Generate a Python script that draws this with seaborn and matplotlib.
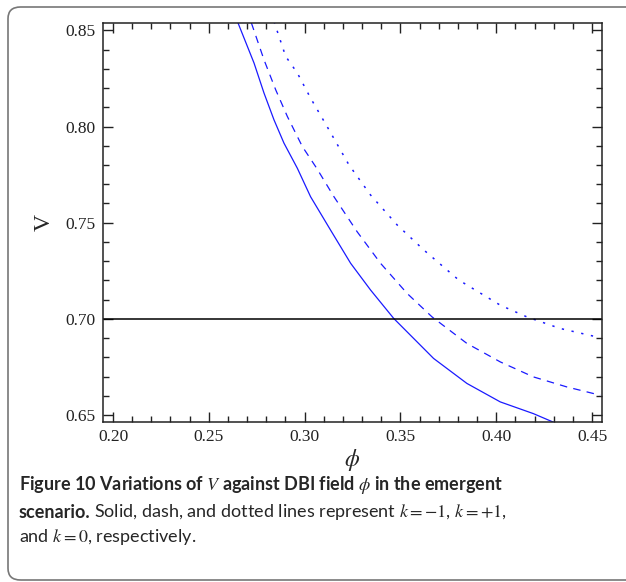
import numpy as np
import pandas as pd
import seaborn as sns
import matplotlib.pyplot as plt
from matplotlib.patches import FancyBboxPatch
from matplotlib.ticker import MultipleLocator

# values
phi_solid = [0.2649, 0.2736, 0.2788, 0.2840, 0.2892, 0.2962, 0.3031, 0.3135, 0.3240, 0.3344,
             0.3465, 0.3500, 0.3673, 0.3847, 0.4021, 0.4194, 0.4316]
v_solid = [0.8547, 0.8330, 0.8174, 0.8035, 0.7914, 0.7783, 0.7635, 0.7462, 0.7289, 0.7150,
           0.7002, 0.6967, 0.6794, 0.6664, 0.6568, 0.6507, 0.6455]

phi_dash = [0.2722, 0.2788, 0.2849, 0.2910, 0.2988, 0.3063, 0.3153, 0.3274, 0.3396, 0.3535,
            0.3665, 0.3847, 0.4021, 0.4194, 0.4368, 0.4542]
v_dash = [0.8539, 0.8347, 0.8191, 0.8052, 0.7896, 0.7783, 0.7635, 0.7453, 0.7289, 0.7132,
          0.7010, 0.6872, 0.6776, 0.6698, 0.6646, 0.6603]

phi_dot = [0.2840, 0.2901, 0.2962, 0.3031, 0.3127, 0.3231, 0.3344, 0.3483, 0.3622, 0.3804,
           0.4021, 0.4160, 0.4333, 0.4525]
v_dot = [0.8547, 0.8365, 0.8278, 0.8148, 0.7983, 0.7801, 0.7644, 0.7488, 0.7358, 0.7202,
         0.7071, 0.7010, 0.6950, 0.6906]

v_ref = 0.70
x_ticks = [0.20, 0.25, 0.30, 0.35, 0.40, 0.45]
y_ticks = [0.65, 0.70, 0.75, 0.80, 0.85]

sns.set_style("ticks")
plt.rcParams['font.family'] = ['Liberation Serif', 'DejaVu Serif']
plt.rcParams['mathtext.fontset'] = 'stix'

fig = plt.figure(figsize=(6.26, 5.82), dpi=100)
ax = fig.add_axes([0.164, 0.2754, 0.7971, 0.6856])

blue = "#1a1aff"
sns.lineplot(x=phi_solid, y=v_solid, ax=ax, color=blue, lw=0.9, sort=False)
sns.lineplot(x=phi_dash, y=v_dash, ax=ax, color=blue, lw=0.9, sort=False,
             linestyle=(0, (6, 5)))
sns.lineplot(x=phi_dot, y=v_dot, ax=ax, color=blue, lw=1.1, sort=False,
             linestyle=(0, (1.5, 5)))
ax.axhline(v_ref, color="black", lw=1.1)

ax.set_xlim(0.1946, 0.455)
ax.set_ylim(0.6465, 0.854)
ax.set_xticks(x_ticks)
ax.set_yticks(y_ticks)
ax.set_xticklabels([f"{t:.2f}" for t in x_ticks])
ax.set_yticklabels([f"{t:.2f}" for t in y_ticks])
ax.xaxis.set_minor_locator(MultipleLocator(0.01))
ax.yaxis.set_minor_locator(MultipleLocator(0.01))
ax.tick_params(which="both", direction="in", top=True, right=True, width=1.0,
               labelsize=12.5, colors="#222222")
ax.tick_params(which="major", length=7, pad=5)
ax.tick_params(which="minor", length=4)
for lbl in ax.get_xticklabels() + ax.get_yticklabels():
    lbl.set_fontfamily("Liberation Serif")
for s in ax.spines.values():
    s.set_linewidth(1.1)
    s.set_color("#222222")

ax.set_xlabel(r"$\phi$", fontsize=17, labelpad=2)
ax.set_ylabel("V", fontsize=17, labelpad=8)

# rounded caption frame
box = FancyBboxPatch((8 / 626, 2 / 582), 640 / 626, 573 / 582,
                     boxstyle="round,pad=0,rounding_size=0.02",
                     transform=fig.transFigure, fill=False, ec="#777777", lw=1.2,
                     clip_on=False)
fig.patches.append(box)

cap_font = "Lato"
fs = 13.0
fig.text(19 / 626, 1 - 485 / 582, r"Figure 10 Variations of $V$ against DBI field $\phi$ in the emergent",
         fontfamily=cap_font, fontweight="bold", fontsize=fs, va="center")
t1 = fig.text(19 / 626, 1 - 512 / 582, "scenario.", fontfamily=cap_font, fontweight="bold",
              fontsize=fs, va="center")
fig.canvas.draw()
bb = t1.get_window_extent()
fig.text(bb.x1 / fig.bbox.width + 0.006, 1 - 512 / 582,
         r"Solid, dash, and dotted lines represent $k=-1$, $k=+1$,",
         fontfamily=cap_font, fontsize=fs, va="center")
fig.text(19 / 626, 1 - 537 / 582, r"and $k=0$, respectively.",
         fontfamily=cap_font, fontsize=fs, va="center")

fig.savefig("out.png", dpi=100)
